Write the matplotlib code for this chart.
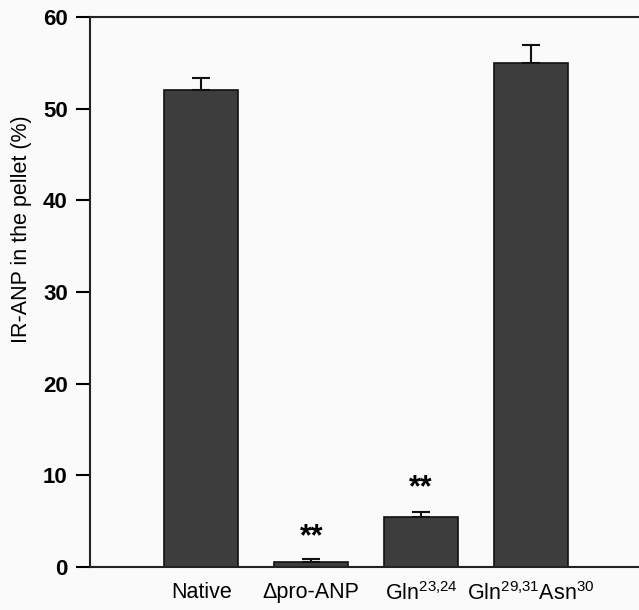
import matplotlib
matplotlib.use("Agg")
import matplotlib.pyplot as plt
import numpy as np

plt.rcParams["font.family"] = ["Liberation Sans", "DejaVu Sans"]
plt.rcParams["mathtext.fontset"] = "custom"
plt.rcParams["mathtext.rm"] = "Liberation Sans"
plt.rcParams["mathtext.it"] = "Liberation Sans"

categories = ["Native", "Δpro-ANP", r"Gln$^{23{,}24}$", r"Gln$^{29{,}31}$Asn$^{30}$"]
values = [52.0, 0.6, 5.5, 55.0]
errors = [1.4, 0.25, 0.5, 1.9]
stars = ["", "**", "**", ""]
star_y = [0, 3.2, 8.6, 0]

fig = plt.figure(figsize=(6.39, 6.10), dpi=100)
fig.patch.set_facecolor("#fafafa")
ax = fig.add_axes([90 / 639, 1 - 567 / 610, 549 / 639, 550 / 610])
ax.set_facecolor("#fafafa")

x = np.arange(len(categories))
ax.bar(x, values, width=0.674, color="#3d3d3d", edgecolor="#111111", linewidth=1.2, zorder=2)
ax.errorbar(x, values, yerr=[np.zeros(len(errors)), errors], fmt="none",
            ecolor="#111111", elinewidth=1.5, capsize=6.5, capthick=1.5, zorder=3)

for xi, s, sy in zip(x, stars, star_y):
    if s:
        ax.text(xi, sy, s, ha="center", va="center", fontsize=22, fontweight="bold")

ax.set_xlim(-1.015, 3.985)
ax.set_ylim(0, 60)
ax.set_yticks([0, 10, 20, 30, 40, 50, 60])
ax.set_xticks(x)
ax.set_xticklabels(categories, fontsize=15.5)
ax.tick_params(axis="x", length=0, pad=11)
ax.tick_params(axis="y", direction="out", length=10, width=1.5, labelsize=16, pad=6)
for lab in ax.get_yticklabels():
    lab.set_fontweight("bold")

ax.spines["right"].set_visible(False)
for sp in ["left", "top", "bottom"]:
    ax.spines[sp].set_linewidth(1.5)
    ax.spines[sp].set_color("#222222")

ax.set_ylabel("IR-ANP in the pellet (%)", fontsize=15.5)
ax.yaxis.set_label_coords(-0.1056, 0.615)

fig.savefig("out.png", dpi=100, facecolor=fig.get_facecolor())
